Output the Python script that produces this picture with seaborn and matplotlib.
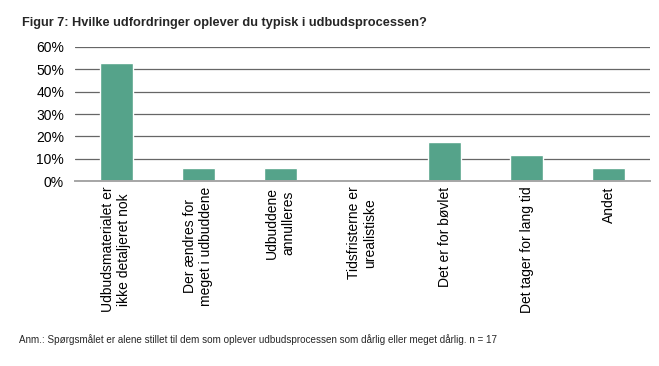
import matplotlib
matplotlib.use("Agg")
import matplotlib.pyplot as plt
import seaborn as sns
import pandas as pd
from matplotlib.ticker import PercentFormatter

categories = [
    "Udbudsmaterialet er\nikke detaljeret nok",
    "Der ændres for\nmeget i udbuddene",
    "Udbuddene\nannulleres",
    "Tidsfristerne er\nurealistiske",
    "Det er for bøvlet",
    "Det tager for lang tid",
    "Andet",
]
values = [52.9, 5.9, 5.9, 0.0, 17.6, 11.8, 5.9]
yticks = [0, 10, 20, 30, 40, 50, 60]

title = "Figur 7: Hvilke udfordringer oplever du typisk i udbudsprocessen?"
note = "Anm.: Spørgsmålet er alene stillet til dem som oplever udbudsprocessen som dårlig eller meget dårlig. n = 17"

sns.set_style("white")
plt.rcParams['font.family'] = ['Liberation Sans', 'DejaVu Sans']

df = pd.DataFrame({"cat": categories, "val": values})

fig = plt.figure(figsize=(6.59, 3.66), dpi=100)
ax = fig.add_axes([0.114, 0.505, 0.872, 0.367])

sns.barplot(data=df, x="cat", y="val", color="#55a38a", saturation=1, width=0.4, ax=ax, zorder=3)

ax.set_ylim(0, 60)
ax.set_yticks(yticks)
ax.yaxis.set_major_formatter(PercentFormatter(decimals=0))
ax.grid(axis="y", color="#666666", linewidth=0.9, zorder=0)
ax.set_xlabel("")
ax.set_ylabel("")
for s in ["top", "right", "left"]:
    ax.spines[s].set_visible(False)
ax.spines["bottom"].set_color("#a6a6a6")
ax.spines["bottom"].set_linewidth(1.4)
ax.spines["bottom"].set_zorder(4)
ax.tick_params(axis="both", length=0, labelsize=10, colors="black")
ax.tick_params(axis="y", pad=8)
ax.tick_params(axis="x", pad=4)
ax.set_xticks(range(len(categories)))
ax.set_xticklabels(categories, rotation=90, ha="center", va="top", multialignment="center")

fig.text(0.033, 0.938, title, fontsize=9.2, fontweight="bold", ha="left", va="center")
fig.text(0.029, 0.072, note, fontsize=7.1, ha="left", va="center")

fig.savefig("out.png", dpi=100)
